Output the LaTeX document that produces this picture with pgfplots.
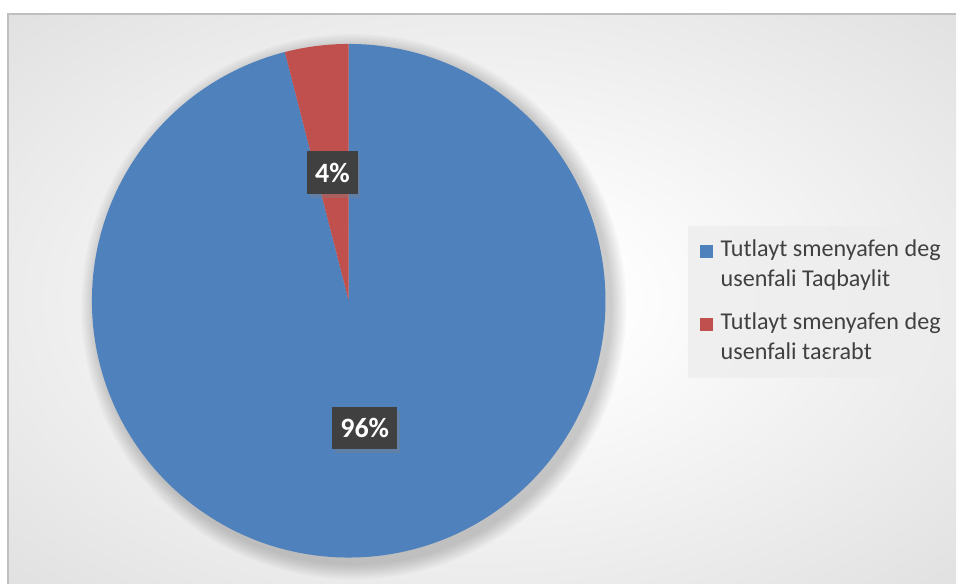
\documentclass[border=0pt]{standalone}
\usepackage{pgfplots}
\pgfplotsset{compat=1.18}
\usepackage{pgfplotstable}
\usepackage{fontspec}
\setmainfont{Carlito}
\usetikzlibrary{shadows,calc}

\definecolor{pieblue}{HTML}{4F81BD}
\definecolor{piered}{HTML}{C0504D}
\definecolor{lblbox}{HTML}{404040}
\definecolor{legtext}{HTML}{404040}

\pgfdeclareradialshading{chartbg}{\pgfpoint{0bp}{0bp}}{%
  color(0bp)=(white); color(6bp)=(white); color(66bp)=(black!24); color(80bp)=(black!24)}

% share of each slice
\pgfplotstableread{
label value
Taqbaylit 96
taerabt 4
}\piedata

\pgfplotstablegetelem{0}{value}\of\piedata \let\va\pgfplotsretval
\pgfplotstablegetelem{1}{value}\of\piedata \let\vb\pgfplotsretval
\pgfmathsetmacro\tot{\va+\vb}
\pgfmathsetmacro\fa{\va/\tot}
\pgfmathsetmacro\fb{\vb/\tot}
\pgfmathsetmacro\angA{360*\fa}
\pgfmathsetmacro\endA{90-\angA}
\pgfmathsetmacro\midA{90-\angA/2}
\pgfmathsetmacro\midB{(\endA-270)/2}
\pgfmathtruncatemacro\pa{round(100*\fa)}
\pgfmathtruncatemacro\pb{round(100*\fb)}

\begin{document}
\begin{tikzpicture}
\begin{axis}[
    width=717.75pt, height=438pt, scale only axis,
    xmin=0, xmax=957, ymin=0, ymax=584,
    hide axis, clip=false,
]
% page and chart area
\fill[white] (axis cs:0,0) rectangle (axis cs:957,584);
\shade[shading=chartbg] (axis cs:8,0) rectangle (axis cs:957,570);
\draw[black!25, line width=1.2pt] (axis cs:8,0) -- (axis cs:8,570) -- (axis cs:957,570);

% soft shadow of the pie
\pgfplotsinvokeforeach{1,...,10}{
  \fill[black, opacity=0.018] (axis cs:354,277) circle [radius=192.75pt+#1*1.2pt];
}

% slices
\fill[pieblue] (axis cs:349,283) -- ++(90:192.75pt)
   arc[start angle=90, end angle=\endA, radius=192.75pt] -- cycle;
\fill[piered] (axis cs:349,283) -- ++(\endA:192.75pt)
   arc[start angle=\endA, end angle=-270, radius=192.75pt] -- cycle;

% data labels
\node[fill=lblbox, text=white, font=\fontsize{21}{21}\selectfont\bfseries,
      inner xsep=6pt, minimum height=32.5pt,
      drop shadow={shadow xshift=2pt, shadow yshift=-3pt, opacity=0.35}]
   at ($(axis cs:349,283)+(\midB:97pt)$) {\pb\%};
\node[fill=lblbox, text=white, font=\fontsize{21}{21}\selectfont\bfseries,
      inner xsep=6pt, minimum height=31.5pt,
      drop shadow={shadow xshift=2pt, shadow yshift=-3pt, opacity=0.35}]
   at ($(axis cs:349,283)+(\midA:96pt)$) {\pa\%};

% legend
\fill[black!7, opacity=0.8] (axis cs:689,206) rectangle (axis cs:953,358);
\fill[pieblue] (axis cs:701,326) rectangle (axis cs:714,339);
\fill[piered] (axis cs:701,253) rectangle (axis cs:714,266);
\begin{scope}[every node/.style={anchor=base west, inner sep=0pt,
      text=legtext, font=\fontsize{18.1}{20}\selectfont}]
\node at (axis cs:721,327) {Tutlayt smenyafen deg};
\node at (axis cs:721,297) {usenfali Taqbaylit};
\node at (axis cs:721,254) {Tutlayt smenyafen deg};
\node at (axis cs:721,224) {usenfali taɛrabt};
\end{scope}
\end{axis}
\end{tikzpicture}
\end{document}
